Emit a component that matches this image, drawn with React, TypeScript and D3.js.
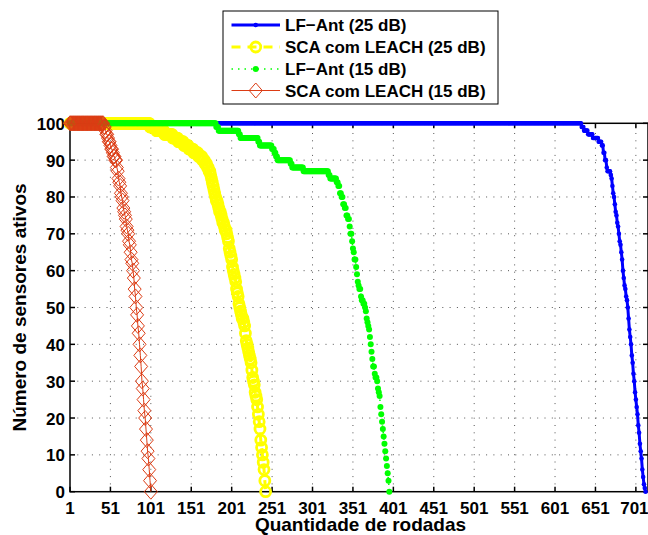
import React from 'react';
import * as d3 from 'd3';

const W = 648;
const H = 535;
const plot = { left: 70, right: 648, top: 123.3, bottom: 491.7 };

const xTicks = [1, 51, 101, 151, 201, 251, 301, 351, 401, 451, 501, 551, 601, 651, 701];
const yTicks = [0, 10, 20, 30, 40, 50, 60, 70, 80, 90, 100];

const xLabel = 'Quantidade de rodadas';
const yLabel = 'Número de sensores ativos';

// Each series: [round, active sensors] at the rounds where the count changes.
type Step = [number, number];

const lfAnt25: Step[] = [
  [1, 100], [634, 99], [637, 98], [642, 97], [648, 96], [655, 95], [659, 94], [661, 92],
  [663, 90], [665, 88], [666, 87], [670, 86], [671, 85], [672, 83], [673, 81], [674, 80],
  [675, 78], [676, 76], [677, 75], [678, 73], [679, 72], [680, 70], [681, 68], [682, 67],
  [683, 65], [684, 63], [685, 60], [686, 58], [687, 56], [688, 55], [689, 53], [690, 52],
  [691, 50], [692, 47], [693, 44], [694, 42], [695, 40], [696, 37], [697, 35], [698, 32],
  [699, 30], [700, 27], [701, 25], [702, 23], [703, 21], [704, 18], [705, 16], [706, 13],
  [707, 11], [708, 9], [709, 6], [710, 4], [711, 2], [712, 1], [713, 0],
];

const scaLeach25: Step[] = [
  [1, 100], [100, 99], [108, 98], [118, 97], [128, 96], [135, 95], [142, 94], [148, 93],
  [154, 92], [160, 91], [165, 90], [168, 89], [171, 88], [173, 87], [175, 86], [176, 85],
  [177, 84], [178, 83], [179, 82], [180, 81], [181, 80], [182, 79], [184, 78], [185, 77],
  [186, 76], [188, 75], [189, 74], [190, 73], [192, 72], [193, 71], [195, 70], [196, 69],
  [197, 68], [198, 66], [199, 65], [200, 64], [201, 63], [202, 61], [203, 60], [204, 59],
  [205, 58], [206, 57], [207, 55], [208, 54], [209, 53], [210, 51], [211, 50], [212, 49],
  [213, 48], [214, 47], [216, 46], [217, 45], [218, 43], [219, 41], [220, 40], [221, 39],
  [222, 38], [223, 37], [224, 36], [225, 35], [226, 33], [227, 31], [228, 30], [229, 29],
  [230, 27], [231, 26], [232, 25], [233, 23], [234, 21], [235, 19], [236, 17], [237, 14],
  [238, 12], [239, 10], [240, 8], [241, 6], [242, 3], [243, 0],
];

const lfAnt15: Step[] = [
  [1, 100], [182, 99], [185, 98], [210, 97], [212, 96], [234, 95], [236, 94], [251, 93],
  [254, 92], [256, 91], [258, 90], [274, 89], [276, 88], [290, 87], [321, 86], [323, 85],
  [331, 84], [333, 83], [335, 81], [337, 80], [339, 78], [341, 77], [343, 75], [345, 74],
  [347, 72], [348, 70], [350, 68], [351, 66], [352, 65], [353, 63], [355, 61], [356, 59],
  [357, 57], [358, 56], [359, 55], [361, 53], [362, 52], [364, 51], [366, 50], [367, 49],
  [368, 47], [369, 46], [370, 45], [371, 44], [372, 42], [373, 40], [374, 38], [375, 36],
  [376, 34], [378, 32], [379, 31], [381, 30], [382, 28], [383, 27], [384, 26], [385, 23],
  [386, 21], [387, 19], [388, 17], [389, 15], [390, 13], [391, 11], [392, 9], [393, 7],
  [394, 5], [395, 3], [396, 0],
];

const scaLeach15: Step[] = [
  [1, 100], [43, 99], [45, 98], [46, 97], [48, 96], [49, 95], [51, 94], [52, 93],
  [54, 92], [55, 91], [57, 90], [59, 88], [60, 87], [61, 85], [62, 84], [63, 83],
  [64, 81], [65, 80], [66, 79], [67, 77], [68, 76], [69, 75], [70, 74], [71, 72],
  [72, 71], [73, 70], [74, 68], [75, 67], [76, 65], [77, 63], [78, 62], [79, 60],
  [80, 58], [81, 55], [82, 53], [83, 50], [84, 48], [85, 45], [86, 43], [87, 40],
  [88, 37], [89, 34], [90, 30], [91, 28], [92, 25], [93, 22], [94, 20], [95, 17],
  [96, 14], [97, 11], [98, 9], [99, 6], [100, 3], [101, 0],
];

type Marker = 'dot' | 'circle' | 'diamond';
interface Series {
  name: string;
  steps: Step[];
  color: string;
  width: number;
  dash: string | null;
  marker: Marker;
  size: number;
}

const series: Series[] = [
  { name: 'LF\u2212Ant (25 dB)', steps: lfAnt25, color: '#0000ff', width: 3, dash: null, marker: 'dot', size: 2.3 },
  { name: 'SCA com LEACH (25 dB)', steps: scaLeach25, color: '#ffff00', width: 3, dash: '9,7', marker: 'circle', size: 5 },
  { name: 'LF\u2212Ant (15 dB)', steps: lfAnt15, color: '#00ff00', width: 1.5, dash: '1.5,5', marker: 'dot', size: 3 },
  { name: 'SCA com LEACH (15 dB)', steps: scaLeach15, color: '#dc3c14', width: 1, dash: null, marker: 'diamond', size: 6.5 },
];

// Hold each count until the next change, one point per round.
function perRound(steps: Step[]): [number, number][] {
  const out: [number, number][] = [];
  const last = steps[steps.length - 1][0];
  let i = 0;
  for (let r = steps[0][0]; r <= last; r++) {
    while (i + 1 < steps.length && steps[i + 1][0] <= r) i++;
    out.push([r, steps[i][1]]);
  }
  return out;
}

const x = d3.scaleLinear().domain([1, 716]).range([plot.left, plot.right]);
const y = d3.scaleLinear().domain([0, 100]).range([plot.bottom, plot.top]);

const FONT = '"Liberation Sans", Arial, Helvetica, sans-serif';

function markerEl(m: Marker, cx: number, cy: number, s: Series, key: string | number) {
  if (m === 'dot') return <circle key={key} cx={cx} cy={cy} r={s.size} fill={s.color} />;
  if (m === 'circle')
    return <circle key={key} cx={cx} cy={cy} r={s.size} fill="none" stroke={s.color} strokeWidth={2.8} />;
  const hw = s.size;
  const hh = s.size + 1;
  return (
    <path
      key={key}
      d={`M${cx},${cy - hh}L${cx + hw},${cy}L${cx},${cy + hh}L${cx - hw},${cy}Z`}
      fill="none"
      stroke={s.color}
      strokeWidth={1}
    />
  );
}

export default function App() {
  const line = d3
    .line<[number, number]>()
    .x((d) => x(d[0]))
    .y((d) => y(d[1]));

  const tickLen = 5;
  const legend = { x: 223, y: 11, w: 275, h: 93 };
  const rowY = [25, 47, 69, 90.5];

  return (
    <svg
      width={W}
      height={H}
      style={{ position: 'absolute', left: 0, top: 0, background: '#fff' }}
      fontFamily={FONT}
    >
      <rect x={0} y={0} width={W} height={H} fill="#fff" />

      {/* grid */}
      <g stroke="#555" strokeWidth={1} strokeDasharray="1,6.3">
        {xTicks.slice(1).map((t) => (
          <line key={'gx' + t} x1={x(t)} x2={x(t)} y1={plot.bottom} y2={plot.top} />
        ))}
        {yTicks.slice(1, -1).map((t) => (
          <line key={'gy' + t} x1={plot.left} x2={plot.right} y1={y(t)} y2={y(t)} />
        ))}
      </g>

      {/* axes box and ticks */}
      <g stroke="#000" strokeWidth={1.5} fill="none">
        <rect x={plot.left} y={plot.top} width={plot.right - plot.left} height={plot.bottom - plot.top} />
        {xTicks.map((t) => (
          <g key={'tx' + t}>
            <line x1={x(t)} x2={x(t)} y1={plot.bottom} y2={plot.bottom - tickLen} />
            <line x1={x(t)} x2={x(t)} y1={plot.top} y2={plot.top + tickLen} />
          </g>
        ))}
        {yTicks.map((t) => (
          <g key={'ty' + t}>
            <line x1={plot.left} x2={plot.left + tickLen} y1={y(t)} y2={y(t)} />
            <line x1={plot.right} x2={plot.right - tickLen} y1={y(t)} y2={y(t)} />
          </g>
        ))}
      </g>

      {/* tick labels */}
      <g fontSize={17} fontWeight="bold" fill="#000">
        {xTicks.map((t, i) => (
          <text
            key={'lx' + t}
            x={i === xTicks.length - 1 ? x(t) - 1.5 : x(t)}
            y={513.5}
            textAnchor="middle"
          >
            {t}
          </text>
        ))}
        {yTicks.map((t) => (
          <text key={'ly' + t} x={65} y={y(t) + 6.5} textAnchor="end">
            {t}
          </text>
        ))}
      </g>

      {/* axis titles */}
      <text x={360.5} y={530.5} textAnchor="middle" fontSize={19} fontWeight="bold">
        {xLabel}
      </text>
      <text
        transform={`translate(25.5,${(plot.top + plot.bottom) / 2}) rotate(-90)`}
        textAnchor="middle"
        fontSize={19}
        fontWeight="bold"
      >
        {yLabel}
      </text>

      {/* series */}
      {series.map((s) => {
        const pts = perRound(s.steps);
        return (
          <g key={s.name}>
            <path
              d={line(pts) || ''}
              fill="none"
              stroke={s.color}
              strokeWidth={s.width}
              strokeDasharray={s.dash || undefined}
            />
            {pts.map((p, i) => markerEl(s.marker, x(p[0]), y(p[1]), s, i))}
          </g>
        );
      })}

      {/* legend */}
      <g>
        <rect x={legend.x} y={legend.y} width={legend.w} height={legend.h} fill="#fff" stroke="#000" strokeWidth={1} />
        {series.map((s, i) => {
          const cy = rowY[i];
          const x1 = 231.5;
          const x2 = 280;
          const cx = (x1 + x2) / 2;
          return (
            <g key={'lg' + i}>
              <line
                x1={x1}
                x2={x2}
                y1={cy}
                y2={cy}
                stroke={s.color}
                strokeWidth={s.width}
                strokeDasharray={s.dash || undefined}
              />
              {markerEl(s.marker, cx, cy, s, 'm')}
              <text x={285} y={cy + 6} fontSize={17} fontWeight="bold">
                {s.name}
              </text>
            </g>
          );
        })}
      </g>
    </svg>
  );
}
